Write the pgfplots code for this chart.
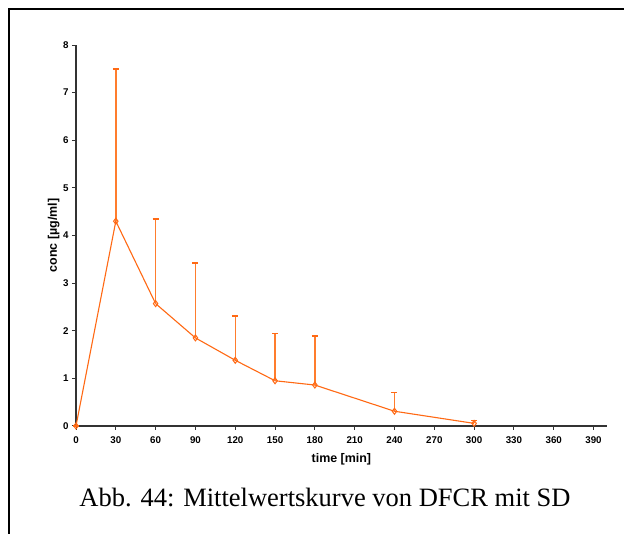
\documentclass[border=0pt]{standalone}
\usepackage{fontspec}
\setmainfont{Liberation Serif}
\newfontfamily\arial{Liberation Sans}
\usepackage{pgfplots}
\pgfplotsset{compat=1.18}
\definecolor{lineor}{RGB}{255,105,20}
\definecolor{error}{RGB}{255,125,45}
\begin{document}
\begin{tikzpicture}
\useasboundingbox (0,0) rectangle (624bp,534bp);
\fill[white] (0,0) rectangle (624bp,534bp);
\draw[line width=2bp, black] (9bp,-5bp) -- (9bp,525bp) -- (630bp,525bp);
\begin{axis}[
  at={(76bp,108bp)}, anchor=south west,
  scale only axis, width=530.8bp, height=381bp,
  xmin=0, xmax=400, ymin=0, ymax=8,
  axis x line*=bottom, axis y line*=left,
  axis line style={-, line width=1.2bp, black!80},
  xtick={0,30,...,390}, ytick={0,1,...,8},
  tick align=outside, major tick length=4bp,
  tick style={line width=1bp, black!80},
  /pgf/number format/assume math mode=true,
  tick label style={font=\arial\bfseries\fontsize{9.8}{12}\selectfont},
  xticklabel style={yshift=-3bp},
  label style={font=\arial\bfseries\fontsize{12.5}{14}\selectfont},
  xlabel={time [min]},
  ylabel={conc [µg/ml]},
  xlabel style={at={(axis description cs:0.5,-0.0971)}, anchor=base},
  ylabel style={at={(axis description cs:-0.0358,0.5)}, anchor=base},
  clip=false,
]
\addplot[color=lineor, line width=1.1bp,
  mark=diamond, mark size=3bp, mark options={fill=white, line width=1bp},
  error bars/.cd, y dir=plus, y explicit,
  error bar style={color=error, line width=1.4bp},
  error mark options={rotate=90, mark size=3bp, line width=1.4bp, color=lineor},
] coordinates {
  (0,0) +- (0,0)
  (30,4.30) +- (0,3.20)
  (60,2.57) +- (0,1.78)
  (90,1.85) +- (0,1.57)
  (120,1.38) +- (0,0.93)
  (150,0.95) +- (0,0.99)
  (180,0.86) +- (0,1.03)
  (240,0.31) +- (0,0.39)
  (300,0.055) +- (0,0.065)
};
\end{axis}
\node[font=\fontsize{26.6}{30}\selectfont, anchor=base] at (325bp,28bp) {Abb. 44: Mittelwertskurve von DFCR mit SD};
\end{tikzpicture}
\end{document}
